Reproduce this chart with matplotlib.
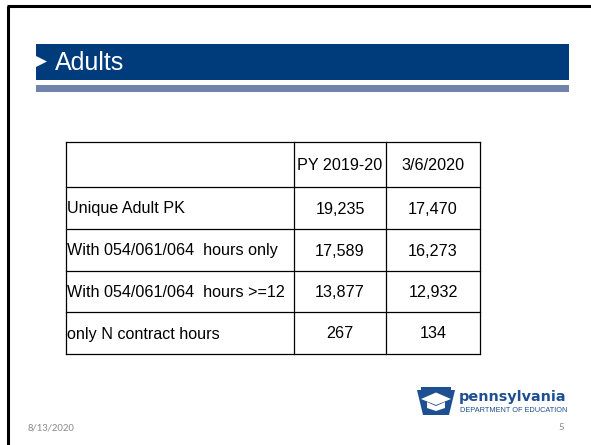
import matplotlib.pyplot as plt
from matplotlib.patches import Rectangle, Polygon

# table content
col_headers = ["", "PY 2019-20", "3/6/2020"]
row_labels = ["Unique Adult PK", "With 054/061/064  hours only",
              "With 054/061/064  hours >=12", "only N contract hours"]
py_2019_20 = ["19,235", "17,589", "13,877", "267"]
as_of_mar6 = ["17,470", "16,273", "12,932", "134"]

title = "Adults"
date_txt = "8/13/2020"
page_no = "5"

W, H = 591, 445
fig = plt.figure(figsize=(W / 100, H / 100), dpi=100)
ax = fig.add_axes([0, 0, 1, 1])
ax.set_xlim(0, W)
ax.set_ylim(H, 0)
ax.axis("off")

font = "Liberation Sans"
navy = "#003b7b"

# slide frame (left + top edges visible)
ax.plot([8, 8], [6, H], color="black", lw=2.2, solid_capstyle="butt")
ax.plot([7, W], [6, 6], color="black", lw=2.2, solid_capstyle="butt")

# title bar
ax.add_patch(Rectangle((36, 44), 533, 36, facecolor=navy, edgecolor="none"))
ax.add_patch(Rectangle((36, 85), 533, 7, facecolor="#7083ad", edgecolor="none"))
ax.add_patch(Polygon([(35, 55.5), (47, 61.5), (35, 67.5)], closed=True,
                     facecolor="white", edgecolor="none"))
ax.text(55, 70, title, color="white", fontsize=18, family=font,
        va="baseline", ha="left")

# table grid
xs = [66, 294, 386, 480]
ys = [142, 187, 229, 271, 312, 354]
for x in xs:
    ax.plot([x, x], [ys[0], ys[-1]], color="black", lw=0.9)
for y in ys:
    ax.plot([xs[0], xs[-1]], [y, y], color="black", lw=0.9)

fs = 11.6
for j, h in enumerate(col_headers):
    if h:
        ax.text((xs[j] + xs[j + 1]) / 2, (ys[0] + ys[1]) / 2 + 1, h,
                fontsize=fs, family=font, ha="center", va="center")
for i, lab in enumerate(row_labels):
    yc = (ys[i + 1] + ys[i + 2]) / 2 + 1
    ax.text(xs[0] + 1, yc, lab, fontsize=fs, family=font, ha="left", va="center")
    ax.text((xs[1] + xs[2]) / 2, yc, py_2019_20[i], fontsize=fs, family=font,
            ha="center", va="center")
    ax.text((xs[2] + xs[3]) / 2, yc, as_of_mar6[i], fontsize=fs, family=font,
            ha="center", va="center")

# logo (simplified keystone + wordmark)
ax.add_patch(Polygon([(417, 390), (421, 390), (421, 387), (451, 387), (451, 390),
                      (455, 390), (449, 415), (423, 415)], closed=True,
                     facecolor="#1d4f91", edgecolor="none"))
ax.add_patch(Polygon([(421, 399), (436, 392.5), (451, 399), (436, 405)], closed=True,
                     facecolor="white", edgecolor="none"))
ax.add_patch(Polygon([(427, 402), (427, 408), (436, 411), (445, 408), (445, 402),
                      (436, 406)], closed=True, facecolor="white", edgecolor="none"))
ax.text(459, 401, "pennsylvania", color="#1d4f91", fontsize=10.4, family="DejaVu Sans",
        weight="bold", ha="left", va="baseline")
ax.text(459.5, 411, "DEPARTMENT OF EDUCATION", color="#1d4f91", fontsize=5.3,
        family="Liberation Sans", ha="left", va="center")

# footer
ax.text(28, 428, date_txt, color="#8c8c8c", fontsize=7.8, family="Carlito",
        ha="left", va="center")
ax.text(561, 428, page_no, color="#8c8c8c", fontsize=7.8, family="Carlito",
        ha="center", va="center")

fig.savefig("out.png", dpi=100)
